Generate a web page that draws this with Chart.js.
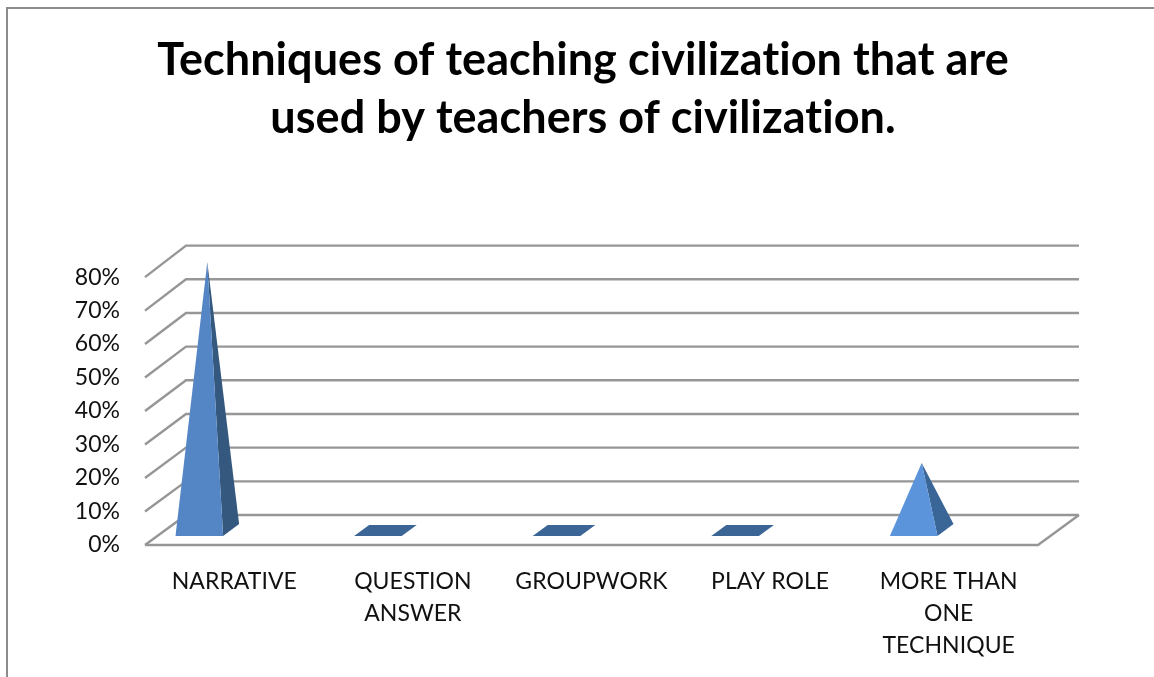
<!DOCTYPE html>
<html><head><meta charset="utf-8">
<style>html,body{margin:0;padding:0;background:#fff;overflow:hidden}canvas{display:block;filter:blur(0.45px)}</style>
<script src="https://cdn.jsdelivr.net/npm/chart.js@4/dist/chart.umd.js"></script>
</head><body>
<div style="width:1154px;height:677px"><canvas id="c" width="1154" height="677"></canvas></div>
<script>
const titleLines = ['Techniques of teaching civilization that are', 'used by teachers of civilization.'];
const categories = ['NARRATIVE', ['QUESTION', 'ANSWER'], 'GROUPWORK', 'PLAY ROLE', ['MORE THAN', 'ONE', 'TECHNIQUE']];
const values = [80, 0, 0, 0, 20];
const frontColors = ['#5485C4', '#3B6595', '#3B6595', '#3B6595', '#5B94DA'];
const sideColors = ['#35587F', '#3B6595', '#3B6595', '#3B6595', '#3A6597'];

const WALL = {dx: 41, dyBottom: 30, dyTop: 31.5};
const PYR = {shift: -35, lift: 9, dx: 16, dy: 12, flatDx: 15, flatDy: 11, apexLift: 15};

Chart.BarElement.prototype.draw = function (ctx) {
  const o = this.options, half = this.width / 2;
  const cx = this.x + PYR.shift, by = this.base - PYR.lift;
  const l = cx - half, r = cx + half;
  ctx.save();
  if (Math.abs(this.base - this.y) < 1) {
    ctx.fillStyle = o.backgroundColor;
    ctx.beginPath();
    ctx.moveTo(l, by); ctx.lineTo(r, by);
    ctx.lineTo(r + PYR.flatDx, by - PYR.flatDy); ctx.lineTo(l + PYR.flatDx, by - PYR.flatDy);
    ctx.closePath(); ctx.fill();
  } else {
    const ax = cx + PYR.dx / 2, ay = this.y - PYR.apexLift;
    ctx.fillStyle = o.borderColor;
    ctx.beginPath();
    ctx.moveTo(r, by); ctx.lineTo(r + PYR.dx, by - PYR.dy); ctx.lineTo(ax, ay);
    ctx.closePath(); ctx.fill();
    ctx.fillStyle = o.backgroundColor;
    ctx.beginPath();
    ctx.moveTo(l, by); ctx.lineTo(r, by); ctx.lineTo(ax, ay);
    ctx.closePath(); ctx.fill();
  }
  ctx.restore();
};

const wallPlugin = {
  id: 'wall',
  beforeDraw(chart) {
    const {ctx, width, height} = chart;
    ctx.letterSpacing = '0.05px';
    ctx.save();
    ctx.fillStyle = '#fff'; ctx.fillRect(0, 0, width, height);
    ctx.strokeStyle = '#8c8c8c'; ctx.lineWidth = 2;
    ctx.beginPath(); ctx.moveTo(7, height); ctx.lineTo(7, 8); ctx.lineTo(width, 8); ctx.stroke();
    ctx.restore();
  },
  beforeDatasetsDraw(chart) {
    const {ctx, chartArea: a, scales: {y}} = chart;
    ctx.save();
    ctx.strokeStyle = '#969696'; ctx.lineWidth = 2.4;
    y.ticks.forEach(t => {
      const py = y.getPixelForValue(t.value);
      const dy = WALL.dyBottom + (WALL.dyTop - WALL.dyBottom) * t.value / y.max;
      ctx.beginPath();
      ctx.moveTo(a.left, py); ctx.lineTo(a.left + WALL.dx, py - dy); ctx.lineTo(a.right + WALL.dx, py - dy);
      ctx.stroke();
    });
    ctx.beginPath();
    ctx.moveTo(a.left, a.bottom); ctx.lineTo(a.right, a.bottom); ctx.lineTo(a.right + WALL.dx, a.bottom - WALL.dyBottom);
    ctx.stroke();
    ctx.restore();
  }
};

new Chart(document.getElementById('c'), {
  type: 'bar',
  data: {labels: categories, datasets: [{
    label: 'Techniques', data: values, backgroundColor: frontColors, borderColor: sideColors,
    borderWidth: 0, barPercentage: 0.2665, categoryPercentage: 1, clip: false
  }]},
  plugins: [wallPlugin],
  options: {
    responsive: false, animation: false,
    layout: {padding: {left: 12, right: 0, top: 0, bottom: 0}},
    plugins: {
      legend: {display: false}, tooltip: {enabled: false},
      title: {display: true, text: titleLines, color: '#000',
        font: {family: 'Lato', size: 45, weight: 'bold', lineHeight: 1.29},
        padding: {top: 31, bottom: 130}}
    },
    scales: {
      x: {
        grid: {display: false, drawTicks: false}, border: {display: false},
        ticks: {color: '#111', font: {family: 'Lato', size: 23, lineHeight: 1.41}, padding: 20, maxRotation: 0, autoSkip: false},
        afterFit(s) { s.height = 132; }
      },
      y: {
        min: 0, max: 80,
        grid: {display: false, drawTicks: false}, border: {display: false},
        ticks: {stepSize: 10, color: '#111', font: {family: 'Lato', size: 23}, padding: 25, callback: v => v + '%'},
        afterFit(s) { s.width = 133; }
      },
      yRight: {
        position: 'right', display: true, grid: {display: false, drawTicks: false}, border: {display: false},
        ticks: {display: false},
        afterFit(s) { s.width = 116; }
      }
    }
  }
});
</script>
</body></html>
